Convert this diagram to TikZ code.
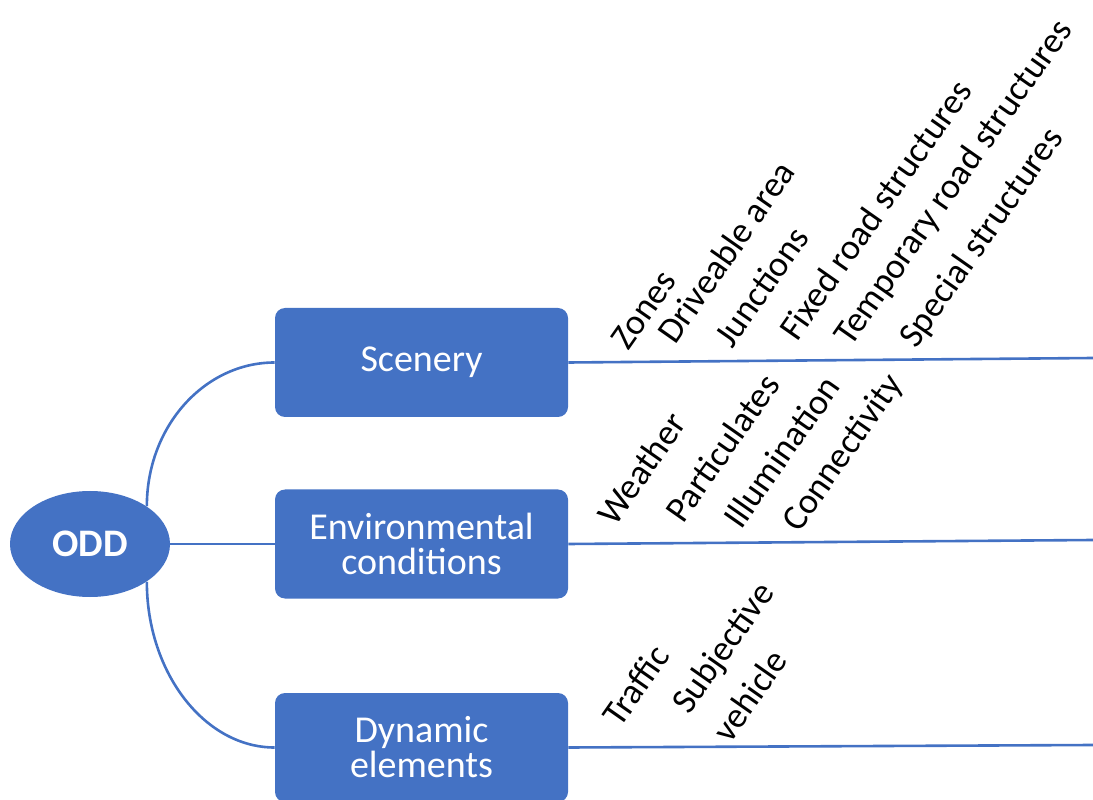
\documentclass[tikz,border=0pt]{standalone}
\usepackage{fontspec}
\setmainfont{Carlito}
\usepackage{tikz}
\usetikzlibrary{shapes.geometric, positioning}
\definecolor{oddblue}{HTML}{4472C4}

\begin{document}
\begin{tikzpicture}[
    x=0.5pt, y=0.5pt,
    topic/.style={
        draw=none, fill=oddblue, rectangle, rounded corners=5pt, align=center,
        minimum width=146.5pt, minimum height=54.5pt, inner sep=0pt,
        text=white, font=\fontsize{19}{17.5}\selectfont
    },
    item/.style={
        anchor=base west, rotate=55, inner sep=0pt, align=left,
        font=\fontsize{18}{25}\selectfont
    },
    link/.style={draw=oddblue, line width=1.3pt}
]
    \useasboundingbox (0,0) rectangle (1093,799);
    \clip (0,0) rectangle (1093,799);
    \node (ODD) [ellipse, fill=oddblue, text=white, minimum width=80pt, minimum height=53pt,
        inner sep=0pt, font=\fontsize{19.5}{20}\selectfont\bfseries] at (90,255) {ODD};
    \node (Scen) [topic] at (421.5,436.5) {Scenery};
    \node (Env) [topic] at (421.5,255) {Environmental\\conditions};
    \node (Dyn) [topic] at (421.5,51.5) {Dynamic\\elements};
    \coordinate (ScenEnd) at (1093,441);
    \coordinate (EnvEnd) at (1093,259);
    \coordinate (DynEnd) at (1093,54);
    \draw[link] (ODD.north east) .. controls +(0,80) and +(-70,0) .. (Scen.west);
    \draw[link] (ODD.east) -- (Env.west);
    \draw[link] (ODD.south east) .. controls +(0,-91) and +(-70,0) .. (Dyn.west);
    \draw[link] (Scen.east) -- (ScenEnd);
    \draw[link] (Env.east) -- (EnvEnd);
    \draw[link] (Dyn.east) -- (DynEnd);
    \node (zones) [item] at (628,447) {Zones};
    \node (area) [item] at (675,453) {Driveable area};
    \node (junc) [item] at (732,449) {Junctions};
    \node (fixed) [item] at (797,456) {Fixed road structures};
    \node (temp) [item] at (851,451) {Temporary road structures};
    \node (spec) [item] at (916,449) {Special structures};
    \node (weather) [item] at (615,271) {Weather};
    \node (part) [item] at (683,274) {Particulates};
    \node (illum) [item] at (741,268) {Illumination};
    \node (conn) [item] at (799,265) {Connectivity};
    \node (traffic) [item] at (620,70) {Traffic};
    \node (subj) [item] at (730,54) {Subjective\\vehicle};
\end{tikzpicture}
\end{document}
